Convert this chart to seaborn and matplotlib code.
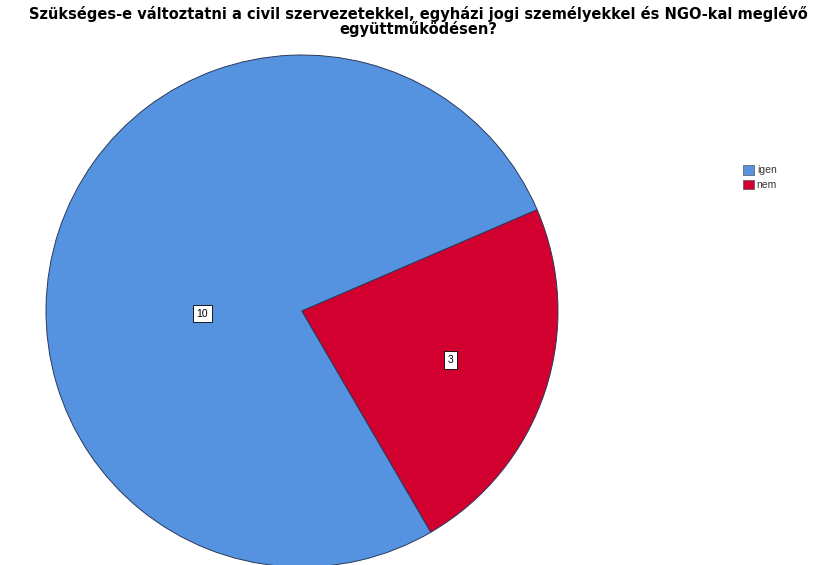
import matplotlib
matplotlib.use("Agg")
import matplotlib.pyplot as plt
import seaborn as sns

categories = ["igen", "nem"]
counts = [10, 3]
colors = ["#5592e0", "#d2002e"]
title = "Szükséges-e változtatni a civil szervezetekkel, egyházi jogi személyekkel és NGO-kal meglévő\negyüttműködésen?"

sns.set_theme(style="white")
plt.rcParams['font.family'] = ['Liberation Sans', 'DejaVu Sans']

fig = plt.figure(figsize=(8.35, 5.65), dpi=100)
cx, cy, r = 302, 311, 256
W, H = 835, 565
ax = fig.add_axes([(cx - r) / W, (H - cy - r) / H, 2 * r / W, 2 * r / H])

wedges, texts, autotexts = ax.pie(
    counts, colors=colors, startangle=23.3, counterclock=True,
    autopct=lambda p: f"{round(p * sum(counts) / 100):d}",
    pctdistance=0.61, radius=1,
    wedgeprops=dict(edgecolor="#2a3a5a", linewidth=0.7),
    textprops=dict(fontsize=7.5, color="black"),
)
for t in autotexts:
    t.set_bbox(dict(boxstyle="square,pad=0.35", facecolor="white", edgecolor="black", linewidth=0.6))
# SPSS places the large slice label nearer the centre
autotexts[0].set_position((-0.39, -0.01))

ax.set_xlim(-1, 1)
ax.set_ylim(-1, 1)
ax.set_aspect("equal")
ax.axis("off")

fig.text(0.501, 1 - 6 / H, title, ha="center", va="top", fontsize=10.5,
         fontweight="bold", linespacing=0.92, color="black", family=['DejaVu Sans'])

leg = fig.legend(wedges, categories, loc="upper left", bbox_to_anchor=(738 / W, 1 - 160 / H),
                 frameon=False, fontsize=7.5, handlelength=1.0, handleheight=1.0,
                 handletextpad=0.3, labelspacing=0.4, borderpad=0, labelcolor="#333333")
for h in leg.legend_handles:
    h.set_edgecolor("#555555")
    h.set_linewidth(0.5)

fig.savefig("out.png", dpi=100)
